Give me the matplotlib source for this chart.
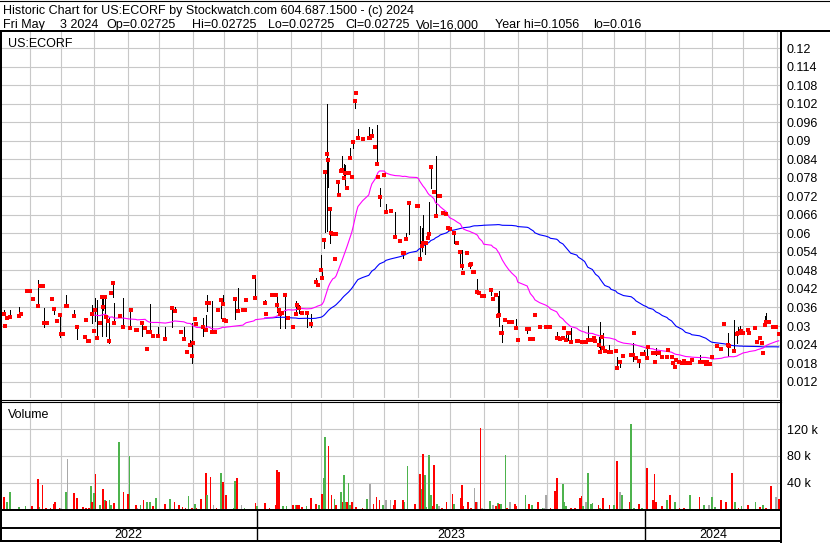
import numpy as np
import pandas as pd
import matplotlib
matplotlib.use("Agg")
import matplotlib.pyplot as plt
from matplotlib.lines import Line2D

# ── data: x is the trading-day index (0 = first day shown) ──
# closes (red ticks)
cl_day = [
    0, 2, 3, 4, 6, 12, 13, 17, 19, 21,
    24, 25, 27, 28, 30, 33, 34, 36, 38, 39,
    40, 42, 43, 47, 49, 54, 55, 56, 57, 59,
    60, 61, 62, 64, 65, 66, 67, 68, 69, 70,
    71, 72, 73, 77, 79, 83, 84, 87, 88, 91,
    93, 94, 95, 96, 98, 101, 106, 110, 112, 116,
    118, 120, 122, 123, 124, 125, 126, 130, 132, 133,
    134, 136, 138, 140, 142, 143, 144, 145, 151, 153,
    156, 157, 158, 163, 164,
    170, 171, 175, 177, 178, 179, 180, 181, 183, 185,
    188, 190, 191, 192, 194, 197, 200, 203, 204, 206,
    207, 208, 209, 210, 211, 212, 213, 214, 215, 216,
    217, 218, 219, 220, 221, 222, 223, 224, 225, 226,
    227, 228, 229, 230, 233, 237, 238, 239, 241, 242,
    243, 244, 247, 248, 251, 254, 257, 259, 260, 261,
    263, 268, 269, 270, 271, 272, 273, 274, 275, 276,
    277, 279, 280, 282, 283, 285, 287, 288, 289,
    292, 294, 296, 297, 298, 300, 302, 303, 304, 305,
    307, 308, 310, 311, 316, 317, 319, 320, 321, 322,
    323, 325, 327, 329, 332, 333, 339, 340, 341, 343,
    344, 347, 351, 353, 354, 358, 359, 360, 362, 363,
    364, 365, 366, 367, 371, 372, 374, 376, 377, 378,
    381, 382, 383, 385, 386, 387, 388, 389, 392, 393,
    396, 397, 399, 401, 406, 407, 408, 409, 411, 413,
    414, 416, 417, 420, 421, 422, 424, 426, 429, 430,
    432, 433, 434, 435, 437, 439, 440, 441, 444, 445,
    450, 452, 454, 455, 456, 457, 458, 461, 464, 466,
    468, 469, 472, 474, 475, 476, 477, 478, 481, 482,
    486, 487, 489, 490, 491, 492, 493, 495, 497, 499,
    501,
]
cl_px = [
    .0340, .0338, .0300, .0327, .0330, .0332, .0340, .0415, .0415, .0389,
    .0365, .0430, .0430, .0311, .0311, .0389, .0356, .0316, .0335, .0275,
    .0275, .0365, .0365, .0333, .0298, .0265, .0320, .0250, .0250, .0340,
    .0284, .0352, .0260, .0311, .0395, .0360, .0395, .0330, .0316, .0250,
    .0406, .0440, .0311, .0333, .0298, .0292, .0352, .0287, .0287, .0311,
    .0294, .0226, .0279, .0279, .0269, .0268, .0258, .0358, .0350, .0279,
    .0258, .0217, .0239, .0203, .0246, .0323, .0308, .0297, .0287, .0375,
    .0375, .0279, .0279, .0352, .0383, .0372, .0320, .0317, .0388, .0349,
    .0351, .0353, .0384, .0458, .0390,
    .0375, .0340, .0399, .0399, .0367, .0351, .0340, .0343, .0399, .0327,
    .0298, .0340, .0368, .0359, .0342, .0343, .0305, .0443, .0433, .0481,
    .0457, .0579, .0800, .0859, .0838, .0680, .0603, .0598, .0518, .0599,
    .0767, .0724, .0802, .0805, .0780, .0795, .0746, .0797, .0846, .0784,
    .0897, .1030, .1056, .0910, .0908, .0910, .0910, .0917, .0881, .0827,
    .0783, .0717, .0789, .0671, .0673, .0590, .0577, .0538, .0538, .0583,
    .0700, .0690, .0690, .0516, .0560, .0568, .0568, .0568, .0586, .0598,
    .0816, .0735, .0658, .0722, .0722, .0665, .0664, .0617, .0614,
    .0600, .0570, .0541, .0495, .0473, .0538, .0498, .0500, .0476, .0476,
    .0411, .0408, .0398, .0398, .0417, .0388, .0401, .0333, .0335, .0276,
    .0278, .0321, .0314, .0314, .0294, .0254, .0291, .0291, .0259, .0259,
    .0335, .0298, .0298, .0298, .0298, .0262, .0261, .0259, .0260, .0294,
    .0254, .0278, .0278, .0249, .0251, .0251, .0249, .0249, .0249, .0254,
    .0254, .0260, .0251, .0240, .0217, .0265, .0228, .0220, .0217, .0217,
    .0220, .0165, .0184, .0203, .0206, .0206, .0278, .0197, .0187, .0209,
    .0209, .0197, .0233, .0211, .0184, .0211, .0211, .0200, .0200, .0222,
    .0200, .0179, .0168, .0190, .0182, .0181, .0187, .0179, .0179, .0190,
    .0182, .0182, .0176, .0182, .0176, .0176, .0200, .0235, .0225, .0306,
    .0238, .0236, .0220, .0273, .0276, .0276, .0284, .0278, .0287, .0276,
    .0292, .0249, .0262, .0244, .0214, .0303, .0314, .0314, .0298, .0298,
    .02725,
]

# high-low ranges (black bars)
bar_day = [
    2, 6, 12, 24, 28, 34, 36, 38, 42, 47,
    49, 59, 61, 62, 65, 66, 67, 68, 70, 72,
    73, 79, 83, 91, 96, 101, 106, 110, 112, 118,
    122, 123, 130, 132, 133, 136, 142, 143, 151, 153,
    164, 170, 178, 180, 183, 190, 192, 197, 200, 203,
    206, 207, 208, 209, 210, 211, 212, 217, 220, 221,
    222, 225, 227, 228, 230, 237, 239, 242, 244, 248,
    254, 259, 261, 263, 270, 271, 272, 273, 276, 277,
    280, 292, 296, 297, 302, 307, 316, 320, 321, 323,
    332, 339, 344, 358, 364, 365, 367, 378, 385, 386,
    388, 392, 397, 399, 407, 411, 414, 416, 422, 450,
    458, 466, 468, 472, 474, 475, 476, 492, 493,
]
bar_hi = [
    .0352, .0352, .0360, .0450, .0357, .0357, .0324, .0335, .0400, .0352,
    .0298, .0368, .0390, .0384, .0397, .0395, .0395, .0330, .0330, .0440,
    .0374, .0390, .0354, .0312, .0372, .0298, .0298, .0361, .0361, .0298,
    .0255, .0309, .0325, .0335, .0400, .0382, .0385, .0400, .0390, .0423,
    .0458, .0384, .0406, .0346, .0399, .0381, .0368, .0344, .0340, .0457,
    .0530, .0487, .0579, .0800, .1020, .0838, .0681, .0770, .0851, .0825,
    .0822, .0878, .0900, .1032, .0940, .0944, .0938, .0951, .0749, .0697,
    .0671, .0541, .0600, .0701, .0625, .0619, .0660, .0573, .0703, .0818,
    .0851, .0606, .0544, .0546, .0500, .0452, .0419, .0397, .0413, .0303,
    .0322, .0292, .0341, .0281, .0270, .0278, .0292, .0300, .0265, .0312,
    .0276, .0237, .0200, .0186, .0246, .0190, .0222, .0233, .0228, .0206,
    .0203, .0308, .0276, .0321, .0276, .0298, .0300, .0332, .0343,
]
bar_lo = [
    .0336, .0330, .0332, .0365, .0298, .0338, .0314, .0265, .0365, .0333,
    .0259, .0311, .0315, .0260, .0266, .0352, .0330, .0266, .0244, .0395,
    .0309, .0298, .0290, .0266, .0279, .0268, .0258, .0298, .0348, .0258,
    .0239, .0179, .0266, .0287, .0350, .0279, .0325, .0368, .0322, .0349,
    .0390, .0375, .0347, .0292, .0292, .0336, .0341, .0298, .0298, .0443,
    .0481, .0457, .0552, .0606, .0609, .0751, .0569, .0725, .0800, .0778,
    .0746, .0846, .0878, .1008, .0910, .0910, .0914, .0827, .0689, .0671,
    .0590, .0522, .0579, .0598, .0514, .0543, .0562, .0535, .0587, .0748,
    .0654, .0570, .0505, .0484, .0487, .0408, .0400, .0330, .0300, .0249,
    .0294, .0276, .0332, .0262, .0251, .0254, .0249, .0254, .0233, .0217,
    .0228, .0217, .0160, .0168, .0188, .0168, .0206, .0197, .0206, .0179,
    .0195, .0303, .0203, .0220, .0244, .0271, .0276, .0301, .0308,
]

# volume (thousands of shares); dir: u = up day, d = down day, n = unchanged
vol_day = [
    2, 4, 6, 12, 16, 20, 24, 25, 27, 29,
    32, 34, 35, 38, 39, 42, 43, 47, 49, 53,
    55, 57, 58, 59, 60, 61, 64, 66, 67, 68,
    70, 71, 73, 76, 79, 82, 83, 87, 88, 90,
    92, 94, 96, 98, 100, 106, 109, 112, 115, 117,
    119, 121, 123, 125, 126, 129, 132, 133, 135, 137,
    139, 142, 143, 145, 150, 151, 152, 155, 157, 164,
    165, 170, 173, 177, 178, 179, 182, 184, 188, 190,
    191, 192, 194, 197, 200, 203, 205, 207, 208, 209,
    211, 213, 215, 216, 219, 220, 221, 222, 223, 224,
    225, 226, 229, 233, 236, 238, 240, 242, 244, 246,
    248, 251, 253, 254, 259, 260, 262, 267, 270, 271,
    272, 273, 274, 276, 277, 278, 279, 281, 282, 284,
    287, 291, 292, 296, 297, 298, 301, 303, 305, 306,
    307, 309, 310, 315, 317, 319, 320, 321, 322, 325,
    326, 328, 331, 332, 338, 340, 342, 346, 349, 350,
    351, 354, 357, 358, 362, 363, 364, 367, 370, 373,
    374, 375, 377, 378, 380, 381, 385, 386, 388, 392,
    395, 397, 399, 400, 405, 406, 408, 411, 413, 416,
    420, 421, 422, 426, 429, 431, 434, 437, 440, 444,
    450, 453, 456, 458, 460, 464, 467, 471, 473, 475,
    477, 481, 486, 489, 491, 493, 496, 499, 501,
]
vol_k = [
    18, 11.5, 26, 3.5, 5, 5, 45, 4, 36, 2.5,
    2, 8.5, 11, 2, 2, 26, 75, 24.5, 17, 3,
    2.5, 2.5, 35, 11, 25, 53, 6.5, 30.5, 14, 12.5,
    14, 6.5, 9.5, 101, 26, 23, 80, 6.5, 2, 6.5,
    13.5, 11, 11, 5, 17, 8.5, 15, 10.5, 6.5, 3.5,
    2, 20, 2, 8.5, 2, 15.5, 54.5, 21.5, 49, 6.5,
    2, 54.5, 41, 22, 2.5, 42.5, 47, 6.5, 2, 9.5,
    5, 9.5, 2, 6.5, 59, 56.5, 5, 5, 6.5, 6.5,
    6.5, 6.5, 3.5, 5, 17, 8.5, 6.5, 23, 47.5, 108.5,
    95, 21.5, 15.5, 6.5, 26, 11, 51.5, 11, 11, 39.5,
    6.5, 11.5, 3.5, 2, 15.5, 37.5, 7.5, 18.5, 13.5, 6.5,
    14, 14, 6.5, 14, 14, 11.5, 65, 8, 53, 30.5,
    82.5, 51.5, 3, 81.5, 21.5, 5, 66.5, 8, 5, 2,
    11, 23, 8.5, 16.5, 36.5, 5, 10.5, 2, 31.5, 11.5,
    11.5, 121.5, 2, 12.5, 6.5, 5, 9, 7.5, 7.5, 81.5,
    2, 10.5, 8, 5, 21.5, 7.5, 6.5, 10.5, 2, 2,
    21.5, 2, 27.5, 46.5, 37.5, 10.5, 5, 2, 2, 17.5,
    20, 5, 10.5, 54, 8, 9, 6.5, 2, 17.5, 6.5,
    6.5, 72.5, 26, 21.5, 10.5, 127.5, 2, 8, 2, 61.5,
    13.5, 53, 10.5, 5, 13.5, 21.5, 11.5, 2, 2, 21.5,
    18.5, 6.5, 6.5, 18.5, 3.5, 13.5, 10.5, 54, 10.5, 2,
    5, 6.5, 10.5, 3.5, 6.5, 2, 35.5, 18.5, 16,
]
vol_dir = ("duuuuddudd" "ddddnunddd" "ddudududud" "uududdudnu" "duudududdd"
           "dududddudn" "dudduudnud" "uddddduudu" "dddudduduu" "ddududuudu"
           "udddundddu" "nnddduuddu" "duuuuddund" "ddudddddnd" "ndnunduduu"
           "dnddududun" "nddduuuddd" "dunuuududd" "udnuduudud" "ddddududdu"
           "dunuudddud" "udududdnd")

# first trading day of each month (gridlines), year boundaries
month_days = [19, 39, 60, 82, 102, 124, 144, 165, 187, 206, 227, 247,
              269, 289, 311, 333, 352, 374, 395, 415, 437, 458, 478, 500]
year_starts = [165, 415]
year_labels = ["2022", "2023", "2024"]

price_ticks = np.round(np.arange(0.012, 0.1201, 0.006), 3)
vol_ticks = [40, 80, 120]

MA_FAST, MA_SLOW = 30, 86

assert len(cl_day) == len(cl_px)
assert len(bar_day) == len(bar_hi) == len(bar_lo)
assert len(vol_day) == len(vol_k) == len(vol_dir)

# ── layout in pixels ──
W, H = 830, 543
plt.rcParams["font.family"] = ["Liberation Sans", "DejaVu Sans"]
FS = 9.0
GRID = "#c8c8c8"

fig = plt.figure(figsize=(W / 100, H / 100), dpi=100)


def fx(px):
    return px / W


def fy(py):
    return 1 - py / H


def rect(x0, y0, x1, y1):
    return [fx(x0), fy(y1), fx(x1) - fx(x0), fy(y0) - fy(y1)]


XR = 781.0
xlim = ((0 - 0.7) / 1.553, (XR - 0.7) / 1.553)

ax = fig.add_axes(rect(0, 32, XR, 398))
axv = fig.add_axes(rect(0, 402, XR, 509.3))
axy = fig.add_axes(rect(0, 509.5, XR, 541))

for a in (ax, axv, axy):
    a.set_xlim(*xlim)
    for s in a.spines.values():
        s.set_visible(False)
    a.set_facecolor("white")

# price panel
ax.set_ylim(0.006649, 0.12535)
ax.set_xticks(month_days)
ax.set_yticks(price_ticks)
ax.set_yticklabels([f"{v:g}" for v in price_ticks])
ax.yaxis.tick_right()
ax.tick_params(axis="x", length=0, labelbottom=False)
ax.tick_params(axis="y", length=0, pad=4.3, labelsize=FS)
ax.grid(True, color=GRID, lw=0.8)
ax.set_axisbelow(True)

ax.vlines(bar_day, bar_lo, bar_hi, colors="black", lw=0.72, zorder=2,
          antialiased=False)
closes = pd.Series(cl_px)
ma_f = closes.rolling(MA_FAST).mean()
ma_s = closes.rolling(MA_SLOW).mean()
ax.plot(cl_day, ma_s, color="#0000ff", lw=0.8, zorder=3)
ax.plot(cl_day, ma_f, color="#ff00ff", lw=0.8, zorder=3)
ax.plot(cl_day, cl_px, "s", color="#ff0000", ms=2.3, mew=0, zorder=4,
        antialiased=False)
ax.text(8 / XR, 1 - (46.7 - 32) / 366, "US:ECORF", transform=ax.transAxes,
        fontsize=FS, va="baseline", ha="left")

# volume panel
axv.set_ylim(0, 160.7)
axv.set_xticks(month_days)
axv.set_yticks(vol_ticks)
axv.set_yticklabels([f"{v} k" for v in vol_ticks])
axv.yaxis.tick_right()
axv.tick_params(axis="x", length=0, labelbottom=False)
axv.tick_params(axis="y", length=0, pad=4.3, labelsize=FS)
axv.grid(True, color=GRID, lw=0.8)
axv.set_axisbelow(True)
dir_color = {"u": "#4db34d", "d": "#ff0000", "n": "#a8a8a8"}
axv.bar(vol_day, vol_k, width=1.1, color=[dir_color[c] for c in vol_dir],
        linewidth=0, zorder=2)
axv.text(8 / XR, 1 - (418.3 - 402) / 107.3, "Volume", transform=axv.transAxes,
         fontsize=FS, va="baseline", ha="left")

# year strip
axy.set_ylim(0, 1)
axy.set_xticks([])
axy.set_yticks([])
row_y = (541 - 527.5) / 31.5
axy.axhline(row_y, color="black", lw=1.4)
axy.vlines(year_starts, 0, 1, colors="black", lw=1.0)
edges = [xlim[0]] + year_starts + [xlim[1]]
for lab, a0, a1 in zip(year_labels, edges[:-1], edges[1:]):
    axy.text((a0 + a1) / 2, (541 - 534.5) / 31.5, lab, fontsize=FS,
             ha="center", va="center")

# frame lines (figure pixels)


def hline(py, x0, x1, lw=1.44):
    fig.add_artist(Line2D([fx(x0), fx(x1)], [fy(py), fy(py)], color="black",
                          lw=lw, transform=fig.transFigure))


def vline(px, y0, y1, lw=1.44):
    fig.add_artist(Line2D([fx(px), fx(px)], [fy(y0), fy(y1)], color="black",
                          lw=lw, transform=fig.transFigure))


hline(0.5, 0, W, lw=0.8)
hline(31, 0, W)
hline(399.5, 0, XR, lw=0.8)
hline(401.5, 0, XR, lw=0.8)
hline(509.5, 0, XR)
hline(541, 0, XR)
vline(0.7, 31, 541)
vline(XR, 31, H)

# header
fig.text(fx(3), fy(14), "Historic Chart for US:ECORF by Stockwatch.com 604.687.1500 - (c) 2024",
         fontsize=FS, va="baseline", ha="left")
header2 = [(3, "Fri May"), (60, "3 2024"), (106, "Op=0.02725"), (192, "Hi=0.02725"),
           (268, "Lo=0.02725"), (345, "Cl=0.02725"), (416, "Vol=16,000"),
           (495, "Year hi=0.1056"), (593, "lo=0.016")]
for px, txt in header2:
    fig.text(fx(px), fy(28), txt, fontsize=FS, va="baseline", ha="left")

fig.savefig("out.png", dpi=100)
